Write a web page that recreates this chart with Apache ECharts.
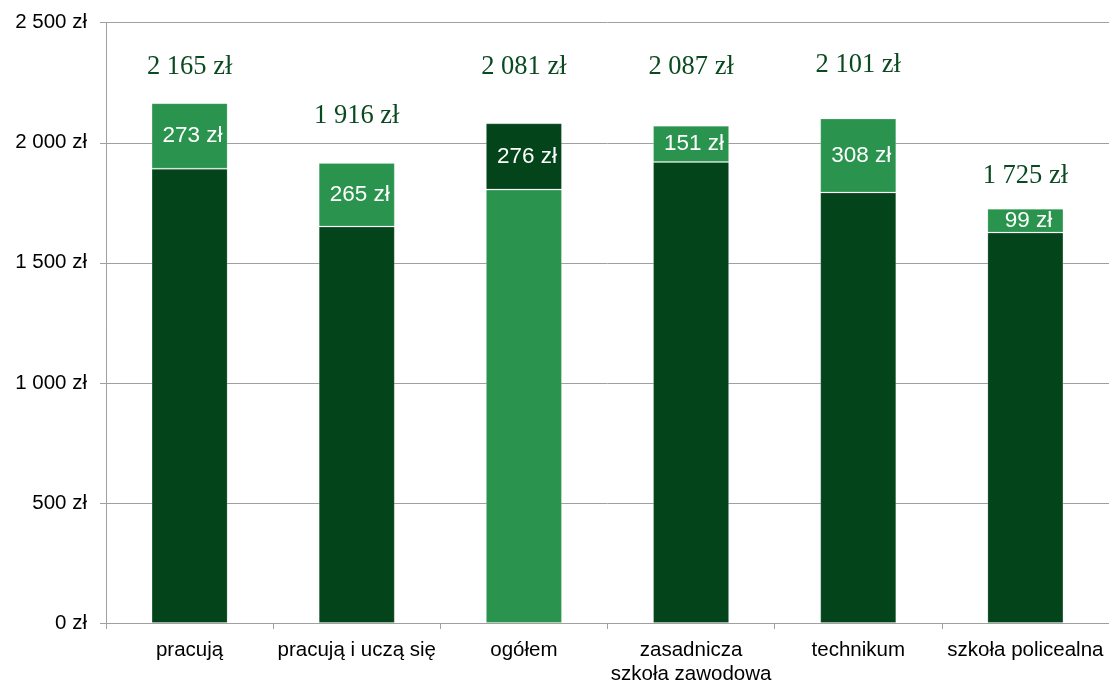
<!DOCTYPE html>
<html>
<head>
<meta charset="utf-8">
<script src="https://cdn.jsdelivr.net/npm/echarts@6/dist/echarts.min.js"></script>
<style>
html,body{margin:0;padding:0;background:#fff;}
#chart{width:1109px;height:686px;}
</style>
</head>
<body>
<div id="chart"></div>
<script>
// ---- data ----
const categories = ['pracują', 'pracują i uczą się', 'ogółem', 'zasadnicza\nszkoła zawodowa', 'technikum', 'szkoła policealna'];
const baseValues = [1892, 1651, 1805, 1920, 1793, 1626];
const addedValues = [273, 265, 276, 151, 308, 99];
const totalLabels = ['2 165 zł', '1 916 zł', '2 081 zł', '2 087 zł', '2 101 zł', '1 725 zł'];
const yTicks = [0, 500, 1000, 1500, 2000, 2500];

// label anchor heights (value units) for the total labels
const totalLabelY = [2316, 2110, 2316, 2316, 2322, 1862];

const DARK = '#03441b';
const LIGHT = '#2a944e';
const swapIndex = 2; // 'ogółem' uses reversed colours

function fmt(v) {
  return String(v).replace(/\B(?=(\d{3})+(?!\d))/g, ' ') + ' zł';
}

const chart = echarts.init(document.getElementById('chart'), null, {renderer: 'canvas'});
chart.setOption({
  animation: false,
  grid: {left: 106, right: 0, top: 22.7, bottom: 58.5, containLabel: false},
  xAxis: {
    type: 'category',
    data: categories,
    axisLine: {show: true, lineStyle: {color: '#a0a0a0', width: 1}},
    axisTick: {show: true, length: 6, lineStyle: {color: '#a0a0a0'}, alignWithLabel: false},
    axisLabel: {color: '#000', fontFamily: 'Liberation Sans, Arial, sans-serif', fontSize: 20.5, margin: 15, lineHeight: 24, interval: 0}
  },
  yAxis: {
    type: 'value',
    min: 0, max: 2500, interval: 500,
    axisLine: {show: true, lineStyle: {color: '#a0a0a0', width: 1}},
    axisTick: {show: true, length: 6, lineStyle: {color: '#a0a0a0'}},
    splitLine: {show: true, lineStyle: {color: '#a0a0a0', width: 1}},
    axisLabel: {
      color: '#000', fontFamily: 'Liberation Sans, Arial, sans-serif', fontSize: 20.5, margin: 19,
      formatter: v => yTicks.includes(v) ? fmt(v) : ''
    }
  },
  series: [
    {
      type: 'bar', stack: 's', barWidth: '45.5%',
      data: baseValues.map((v, i) => ({value: v, itemStyle: {color: i === swapIndex ? LIGHT : DARK}})),
      itemStyle: {borderColor: 'rgba(255,255,255,0.2)', borderWidth: 1},
      label: {show: false}
    },
    {
      type: 'bar', stack: 's', barWidth: '45.5%',
      data: addedValues.map((v, i) => ({value: v, itemStyle: {color: i === swapIndex ? DARK : LIGHT}})),
      itemStyle: {borderColor: 'rgba(255,255,255,0.2)', borderWidth: 1},
      label: {
        show: true, position: 'inside', offset: [3, 0],
        color: '#fff', fontFamily: 'Liberation Sans, Arial, sans-serif', fontSize: 22.5,
        formatter: p => addedValues[p.dataIndex] + ' zł'
      }
    },
    {
      type: 'scatter', symbol: 'circle', symbolSize: 2, silent: true,
      itemStyle: {color: 'rgba(255,255,255,0)', opacity: 1},
      data: totalLabelY.map((y, i) => [i, y]),
      label: {
        show: true, position: 'inside',
        color: '#0b4a21', opacity: 1, fontFamily: 'Liberation Serif, Times New Roman, serif', fontSize: 26.5,
        formatter: p => totalLabels[p.dataIndex]
      },
      labelLayout: {hideOverlap: false}
    }
  ]
});
</script>
</body>
</html>
